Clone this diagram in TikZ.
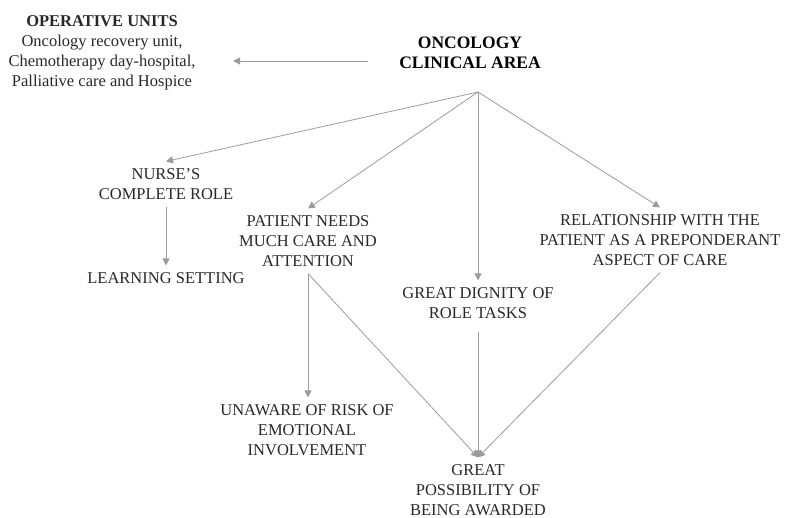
\documentclass[tikz,border=0pt]{standalone}
\usepackage{fontspec}
\setmainfont{Liberation Serif}
\usetikzlibrary{arrows.meta}
\definecolor{inkgray}{RGB}{40,40,40}
\definecolor{linegray}{RGB}{155,155,155}
\begin{document}
\begin{tikzpicture}[x=1pt, y=-1pt,
  box/.style={align=center, text=inkgray, inner sep=4pt, outer sep=3pt,
    font=\fontsize{16.5}{20}\selectfont},
  headbox/.style={box, text=black, font=\fontsize{17.5}{20}\selectfont\bfseries},
  link/.style={draw=linegray, line width=0.8pt, -{Triangle[length=7pt, width=7pt]}}]
\useasboundingbox (0,0) rectangle (786,518);
\node[box] (units) at (102,53) {\textbf{OPERATIVE UNITS}\\Oncology recovery unit,\\Chemotherapy day-hospital,\\Palliative care and Hospice};
\node[headbox] (onco) at (470,53) {ONCOLOGY\\CLINICAL AREA};
\coordinate (hub) at (478,92);
\coordinate (from-onco) at (368,61);
\coordinate (to-units) at (233,61);
\node[box] (nurse) at (166,184) {NURSE’S\\COMPLETE ROLE};
\node[box] (patient) at (308,241) {PATIENT NEEDS\\MUCH CARE AND\\ATTENTION};
\node[box] (dignity) at (478,303) {GREAT DIGNITY OF\\ROLE TASKS};
\node[box] (relation) at (660,240) {RELATIONSHIP WITH THE\\PATIENT AS A PREPONDERANT\\ASPECT OF CARE};
\node[box] (learning) at (166,278) {LEARNING SETTING};
\node[box] (unaware) at (307,430) {UNAWARE OF RISK OF\\EMOTIONAL\\INVOLVEMENT};
\node[box] (award) at (478,490) {GREAT\\POSSIBILITY OF\\BEING AWARDED};
\draw[link] (from-onco) -- (to-units);
\draw[link] (hub) -- (nurse.north);
\draw[link] (hub) -- (patient.north);
\draw[link] (hub) -- (dignity.north);
\draw[link] (hub) -- (relation.north);
\draw[link] (nurse.south) -- (learning.north);
\draw[link] (patient.south) -- (patient.south |- unaware.north);
\draw[link] (patient.south) -- (award.north);
\draw[link] ([yshift=-6pt]dignity.south) -- (award.north);
\draw[link] (relation.south) -- (award.north);
\end{tikzpicture}
\end{document}
